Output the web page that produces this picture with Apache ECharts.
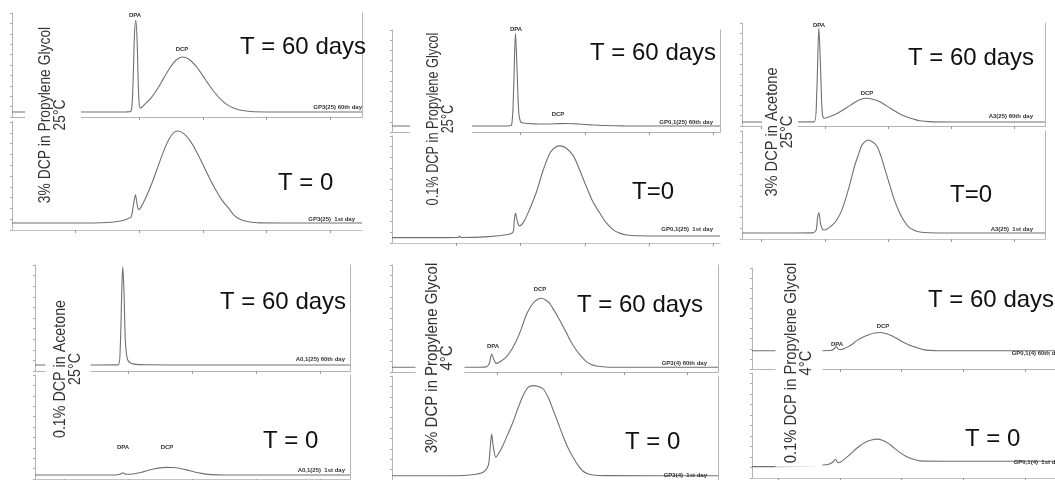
<!DOCTYPE html>
<html><head><meta charset="utf-8">
<script src="https://cdn.jsdelivr.net/npm/echarts@6/dist/echarts.min.js"></script>
<style>html,body{margin:0;padding:0;background:#fff}#c{width:1055px;height:480px}</style>
</head><body><div id="c"></div>
<script>
// [retention time (min), detector signal (% of each trace's full scale)]
const gp3_25_day60 = [[0,4.8],[1.0,4.8],[1.8,4.9],[1.87,5.5],[1.9,30],[1.925,80],[1.945,93],[1.965,75],[1.985,30],[2.0,12],[2.02,8.5],[2.08,11.9],[2.18,18.0],[2.28,26.5],[2.38,36.9],[2.48,47.1],[2.58,54.8],[2.68,57.7],[2.78,55.6],[2.88,49.7],[2.98,41.5],[3.08,32.3],[3.18,23.8],[3.28,17.0],[3.38,11.9],[3.48,8.7],[3.58,6.8],[3.68,5.7],[3.8,5.0],[4.5,4.8],[5.5,4.8]];
const gp3_25_day1 = [[0,6.5],[1.0,6.5],[1.5,7.0],[1.7,8.3],[1.8,10.0],[1.87,12],[1.91,24],[1.94,32.7],[1.965,24],[1.99,19],[2.02,20.5],[2.1,29.7],[2.2,43.5],[2.3,59.8],[2.4,75.6],[2.5,87.3],[2.6,91.6],[2.7,89.2],[2.8,82.5],[2.9,72.5],[3.0,60.6],[3.1,48.4],[3.2,37.2],[3.3,27.7],[3.4,20.4],[3.5,13],[3.6,9.5],[3.7,7.8],[3.8,7.0],[3.9,6.6],[4.5,6.5],[5.5,6.5]];
const gp01_25_day60 = [[0,5.9],[1.0,5.9],[1.8,6.0],[1.86,7],[1.89,40],[1.92,97],[1.945,60],[1.97,20],[2.0,10],[2.05,8.8],[2.2,8.0],[2.4,7.8],[2.6,8.2],[2.72,8.3],[2.9,7.8],[3.1,7.0],[3.3,6.3],[3.6,6.0],[5.1,5.9]];
const gp01_25_day1 = [[0,5.0],[0.5,5.0],[1.03,5.2],[1.05,6.5],[1.07,5.2],[1.5,6],[1.8,8],[1.88,10],[1.9,20],[1.92,28],[1.95,20],[1.98,16],[2.05,20],[2.15,33],[2.25,48.4],[2.35,68],[2.46,84.6],[2.55,90],[2.61,90.8],[2.7,89],[2.82,81.4],[2.92,68],[3.02,53],[3.12,39],[3.23,28],[3.33,19],[3.44,12.3],[3.55,9],[3.65,7.5],[3.8,6.8],[4.5,6.6],[5.1,6.6]];
const a3_25_day60 = [[0.69,3.9],[1.5,3.9],[1.83,4.0],[1.87,30],[1.905,95],[1.935,50],[1.96,12],[1.99,7.5],[2.05,8.5],[2.15,11],[2.24,13.9],[2.35,18],[2.45,22],[2.55,25.5],[2.66,26.9],[2.77,25.8],[2.87,23.6],[2.97,19.8],[3.08,15.5],[3.18,12],[3.29,9],[3.4,6.8],[3.5,5.1],[3.65,4.2],[4.0,3.9],[5.48,3.9]];
const a3_25_day1 = [[0.69,5.6],[1.5,5.6],[1.8,5.7],[1.86,8],[1.885,20],[1.905,24.3],[1.93,15],[1.96,9],[1.99,8.4],[2.1,12],[2.19,17.8],[2.27,27],[2.34,39.5],[2.41,54],[2.47,67.6],[2.53,78],[2.58,86.3],[2.63,90],[2.68,91.6],[2.75,90],[2.82,86.3],[2.89,76],[2.95,64.5],[3.02,51],[3.08,39.5],[3.16,27],[3.24,17.8],[3.32,11.5],[3.4,8.4],[3.5,6.5],[3.65,5.8],[4.0,5.6],[5.48,5.6]];
const a01_25_day60 = [[0.55,5.7],[1.5,5.7],[1.85,5.8],[1.88,20],[1.905,75],[1.92,98.4],[1.94,75],[1.96,30],[1.99,12],[2.03,8],[2.1,6.5],[2.3,5.9],[3,5.7],[5.47,5.7]];
const a01_25_day1 = [[0.55,3.8],[1.8,3.8],[1.88,4.5],[1.92,6],[1.96,4.8],[2.0,4.5],[2.1,5],[2.2,6.3],[2.3,8],[2.4,9.6],[2.5,10.7],[2.6,11.2],[2.7,11],[2.8,10.3],[2.9,9],[3.0,7.5],[3.1,6],[3.2,4.9],[3.3,4.2],[3.5,3.9],[5.47,3.8]];
const gp3_4_day60 = [[0.33,4.4],[1.5,4.4],[1.8,4.6],[1.86,7],[1.89,14],[1.905,16.8],[1.93,13],[1.96,9],[1.98,8.1],[2.06,10.5],[2.14,14.3],[2.22,21],[2.30,29.9],[2.38,41.5],[2.45,53.3],[2.52,61],[2.58,65.7],[2.65,68.5],[2.69,68.9],[2.75,67.5],[2.82,64.2],[2.88,58.5],[2.95,51.7],[3.02,44],[3.09,36.1],[3.16,28],[3.24,20.6],[3.32,14.5],[3.40,9.7],[3.48,7],[3.56,5.6],[3.7,4.7],[4.0,4.4],[5.48,4.4]];
const gp3_4_day1 = [[0.33,4.1],[1.3,4.1],[1.6,5],[1.77,7.4],[1.85,13.8],[1.88,30],[1.905,44.2],[1.93,32],[1.97,21.8],[2.02,26],[2.08,33],[2.16,44],[2.24,55.5],[2.32,69],[2.40,81],[2.48,89],[2.56,90.7],[2.64,90],[2.72,87.5],[2.80,79],[2.87,68.3],[2.95,55.5],[3.03,42.6],[3.11,31],[3.19,21.8],[3.27,14],[3.34,8.9],[3.42,6],[3.5,4.8],[3.7,4.2],[5.48,4.1]];
const gp01_4_day60 = [[0.58,18.1],[1.5,18.1],[1.85,18.3],[1.9,19.5],[1.94,21.9],[1.98,19.5],[2.02,19.3],[2.08,20.5],[2.13,21.9],[2.2,24.5],[2.28,28.3],[2.37,31.5],[2.47,34],[2.56,35.6],[2.65,36.2],[2.74,35.2],[2.84,33],[2.93,30],[3.02,26.7],[3.11,24],[3.21,21.9],[3.30,20],[3.39,18.7],[3.55,18.2],[5.48,18.1]];
const gp01_4_day1 = [[0.58,10.8],[1.2,11],[1.6,11.8],[1.81,12.9],[1.89,15.2],[1.93,17.8],[1.97,14.5],[2.02,15.5],[2.07,17.8],[2.15,21.5],[2.23,26.1],[2.32,30.5],[2.42,34.3],[2.51,36.2],[2.6,37],[2.7,35.7],[2.79,32.7],[2.88,28.5],[2.97,24.4],[3.06,21],[3.15,18.5],[3.25,16.9],[3.34,16.1],[4,16],[5.48,16]];

const timeTicks = [1, 2, 3, 4, 5];
const conditionLabels = ['3% DCP in Propylene Glycol\n25°C', '0.1% DCP in Propylene Glycol\n25°C', '3% DCP in Acetone\n25°C', '0.1% DCP in Acetone\n25°C', '3% DCP in Propylene Glycol\n4°C', '0.1% DCP in Propylene Glycol\n4°C'];
const topTitles = ['T = 60 days', 'T = 60 days', 'T = 60 days', 'T = 60 days', 'T = 60 days', 'T = 60 days'];
const bottomTitles = ['T = 0', 'T=0', 'T=0', 'T = 0', 'T = 0', 'T = 0'];
const topSampleLabels = ['GP3(25) 60th day', 'GP0,1(25) 60th day', 'A3(25) 60th day', 'A0,1(25) 60th day', 'GP3(4) 60th day', 'GP0,1(4) 60th day'];
const bottomSampleLabels = ['GP3(25)  1st day', 'GP0,1(25)  1st day', 'A3(25)  1st day', 'A0,1(25)  1st day', 'GP3(4)  1st day', 'GP0,1(4)  1st day'];
const topTraces = [gp3_25_day60, gp01_25_day60, a3_25_day60, a01_25_day60, gp3_4_day60, gp01_4_day60];
const bottomTraces = [gp3_25_day1, gp01_25_day1, a3_25_day1, a01_25_day1, gp3_4_day1, gp01_4_day1];

// layout (pixels)
const panels = [
  {top:[12,13,350,104], bot:[12,122,350,108], xr:[0,5.5], lab:[53,115,0.815,[16,4,10,4]], t1:[240,47], t2:[278,183], s1:[362,107], s2:[355,219]},
  {top:[392,30,328,102], bot:[392,136,328,107], xr:[0,5.1], lab:[441,119,0.75,[15,4,17,4]], t1:[590,53], t2:[632,192], s1:[713,122], s2:[713,229]},
  {top:[742,23,303,103], bot:[742,131,303,108], xr:[0.69,5.48], lab:[780,132,0.86,[3,4,3,4]], t1:[908,58], t2:[950,195], s1:[1033,116], s2:[1033,229]},
  {top:[35,265,315,106], bot:[35,375,315,104], xr:[0.55,5.47], lab:[68,369,0.84,[3,4,12,4]], t1:[220,302], t2:[263,441], s1:[345,359], s2:[345,470]},
  {top:[392,265,326,107], bot:[392,376,326,105], xr:[0.33,5.48], lab:[440,358,0.88,[6,4,13,4]], t1:[577,305], t2:[625,442], s1:[707,363], s2:[707,475]},
  {top:[752,268,310,101], bot:[752,373,310,105], xr:[0.58,5.48], lab:[799,363,0.87,[10,4,7,4]], t1:[928,300], t2:[965,439], s1:[1062,353], s2:[1062,462]}
];
const peakLabels = [
  ['DPA',135,15],['DCP',182,49],
  ['DPA',516,29],['DCP',558,114],
  ['DPA',819,25],['DCP',867,93],
  ['DPA',123,447],['DCP',167,447],
  ['DPA',493,346],['DCP',540,289],
  ['DPA',837,344],['DCP',883,326]
];

const FONT = 'Liberation Sans, Arial, Helvetica, sans-serif';
const AX = '#b4b4b4';
const grids = [], xAxes = [], yAxes = [], series = [], graphics = [];
panels.forEach((p, i) => {
  [['top', topTraces[i]], ['bot', bottomTraces[i]]].forEach(([k, data]) => {
    const g = p[k];
    const gi = grids.length;
    grids.push({left: g[0], top: g[1], width: g[2], height: g[3], containLabel: false});
    const xi = xAxes.length;
    xAxes.push({type: 'value', gridIndex: gi, min: p.xr[0], max: p.xr[1],
      axisLine: {show: true, lineStyle: {color: AX, width: 1}},
      axisTick: {show: true, length: 3, lineStyle: {color: '#999'}, customValues: timeTicks.filter(v => v > p.xr[0] && v < p.xr[1])},
      axisLabel: {show: false}, splitLine: {show: false}});
    if (k === 'bot') {
      // top edge line of the lower trace frame
      xAxes.push({type: 'value', gridIndex: gi, position: 'top', min: p.xr[0], max: p.xr[1],
        axisLine: {show: true, lineStyle: {color: '#c4c4c4'}}, axisTick: {show: false}, axisLabel: {show: false}, splitLine: {show: false}});
    }
    const yi = yAxes.length;
    yAxes.push({type: 'value', gridIndex: gi, min: 0, max: 100, interval: 10,
      axisLine: {show: true, lineStyle: {color: AX}},
      axisTick: {show: true, length: 2, lineStyle: {color: '#aaa'}},
      axisLabel: {show: false}, splitLine: {show: false}});
    yAxes.push({type: 'value', gridIndex: gi, min: 0, max: 100, position: 'right',
      axisLine: {show: true, lineStyle: {color: AX}}, axisTick: {show: false},
      axisLabel: {show: false}, splitLine: {show: false}});
    series.push({type: 'line', xAxisIndex: xi, yAxisIndex: yi, data: data,
      showSymbol: false, smooth: 0.3, lineStyle: {color: '#707070', width: 1.1}, silent: true, z: 3});
  });
  graphics.push({type: 'text', x: p.lab[0], y: p.lab[1], rotation: Math.PI / 2, scaleX: p.lab[2], scaleY: 1, z: 100,
    style: {text: conditionLabels[i], font: '17px ' + FONT, fill: '#333', align: 'center', textAlign: 'center',
      verticalAlign: 'middle', textVerticalAlign: 'middle', lineHeight: 15, backgroundColor: '#fff', padding: p.lab[3]}});
  graphics.push({type: 'text', x: p.t1[0], y: p.t1[1], z: 100,
    style: {text: topTitles[i], font: '24px ' + FONT, fill: '#111', verticalAlign: 'middle', textVerticalAlign: 'middle'}});
  graphics.push({type: 'text', x: p.t2[0], y: p.t2[1], z: 100,
    style: {text: bottomTitles[i], font: '24px ' + FONT, fill: '#111', verticalAlign: 'middle', textVerticalAlign: 'middle'}});
  graphics.push({type: 'text', x: p.s1[0], y: p.s1[1], z: 100,
    style: {text: topSampleLabels[i], font: 'bold 6px ' + FONT, fill: '#333', align: 'right', textAlign: 'right', verticalAlign: 'middle', textVerticalAlign: 'middle'}});
  graphics.push({type: 'text', x: p.s2[0], y: p.s2[1], z: 100,
    style: {text: bottomSampleLabels[i], font: 'bold 6px ' + FONT, fill: '#333', align: 'right', textAlign: 'right', verticalAlign: 'middle', textVerticalAlign: 'middle'}});
});
peakLabels.forEach(l => graphics.push({type: 'text', x: l[1], y: l[2], z: 100,
  style: {text: l[0], font: 'bold 6px ' + FONT, fill: '#333', align: 'center', textAlign: 'center', verticalAlign: 'middle', textVerticalAlign: 'middle'}}));

const chart = echarts.init(document.getElementById('c'), null, {renderer: 'canvas'});
chart.setOption({
  animation: false,
  backgroundColor: '#fff',
  grid: grids, xAxis: xAxes, yAxis: yAxes, series: series,
  graphic: {elements: graphics}
});
</script></body></html>
